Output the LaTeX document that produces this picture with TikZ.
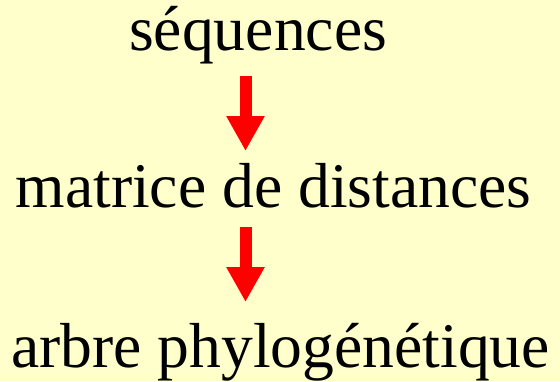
\documentclass[tikz,border=0pt]{standalone}
\usepackage{fontspec}
\setmainfont{Liberation Serif}
\usetikzlibrary{arrows.meta}
\definecolor{bgyellow}{HTML}{FFFFCC}
\definecolor{arrowred}{HTML}{FF0000}
\tikzset{
  label text/.style={anchor=base west, inner sep=0pt, font=\fontsize{63.6}{72}\selectfont, text=black},
  flow arrow/.style={draw=arrowred, line width=12pt, -{Triangle[width=36pt,length=35pt]}}
}
\begin{document}
\begin{tikzpicture}[x=1pt,y=-1pt]
  \fill[bgyellow] (0,0) rectangle (560,381);
  \useasboundingbox (0,0) rectangle (560,381);
  \node[label text] (seq) at (129,50) {séquences};
  \node[label text] (mat) at (15.5,207) {matrice de distances};
  \node[label text] (arb) at (11,367) {arbre phylogénétique};
  \coordinate (a1s) at (245.5,76);
  \coordinate (a1e) at (245.5,151);
  \coordinate (a2s) at (245.5,227);
  \coordinate (a2e) at (245.5,302);
  \draw[flow arrow] (a1s) -- (a1e);
  \draw[flow arrow] (a2s) -- (a2e);
\end{tikzpicture}
\end{document}
